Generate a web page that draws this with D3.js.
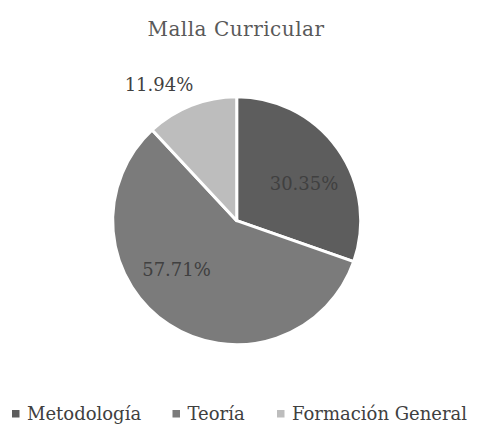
<!DOCTYPE html>
<html>
<head>
<meta charset="utf-8">
<script src="https://cdn.jsdelivr.net/npm/d3@7"></script>
<style>
  html, body { margin: 0; padding: 0; background: #ffffff; }
  svg { display: block; }
</style>
</head>
<body>
<svg id="chart" width="482" height="435"></svg>
<script>
const title = "Malla Curricular";
const categories = ["Metodología", "Teoría", "Formación General"];
const values = [30.35, 57.71, 11.94];
const labels = ["30.35%", "57.71%", "11.94%"];
const colors = ["#5d5d5d", "#7b7b7b", "#bdbdbd"];

const FONT = "'DejaVu Serif', serif";
const W = 482, H = 435;
const cx = 236.7, cy = 220.7, R = 124;
const svg = d3.select("#chart");

svg.append("text")
  .attr("x", 236)
  .attr("y", 36)
  .attr("text-anchor", "middle")
  .attr("fill", "#595959")
  .attr("font-family", FONT)
  .attr("font-size", 20)
  .attr("letter-spacing", 0.5)
  .text(title);

const pie = d3.pie().sort(null).value(d => d)
  .startAngle(0).endAngle(2 * Math.PI);
const arcs = pie(values);
const arc = d3.arc().innerRadius(0).outerRadius(R);

const g = svg.append("g").attr("transform", `translate(${cx},${cy})`);
g.selectAll("path")
  .data(arcs)
  .enter().append("path")
  .attr("d", arc)
  .attr("fill", (d, i) => colors[i])
  .attr("stroke", "#ffffff")
  .attr("stroke-width", 3)
  .attr("stroke-linejoin", "round");

// label placement: angle nudge (rad) and radius factor per slice
const labelNudge = [0.107, 0.307, -0.142];
const labelRadius = [0.622, 0.627, 1.268];
g.selectAll("text.lbl")
  .data(arcs)
  .enter().append("text")
  .attr("class", "lbl")
  .attr("transform", (d, i) => {
    const a = (d.startAngle + d.endAngle) / 2 + labelNudge[i];
    const r = R * labelRadius[i];
    return `translate(${Math.sin(a) * r},${-Math.cos(a) * r})`;
  })
  .attr("text-anchor", "middle")
  .attr("dy", "0.365em")
  .attr("fill", "#404040")
  .attr("font-family", FONT)
  .attr("font-size", 18)
  .text((d, i) => labels[i]);

const legend = svg.append("g").attr("class", "legend");
const legX = [12, 172.5, 277];
categories.forEach((c, i) => {
  const lg = legend.append("g").attr("transform", `translate(${legX[i]},0)`);
  lg.append("rect")
    .attr("x", 0).attr("y", 410)
    .attr("width", 7.5).attr("height", 7.5)
    .attr("fill", colors[i]);
  lg.append("text")
    .attr("x", 15).attr("y", 420)
    .attr("fill", "#404040")
    .attr("font-family", FONT)
    .attr("font-size", 18)
    .text(c);
});
</script>
</body>
</html>
